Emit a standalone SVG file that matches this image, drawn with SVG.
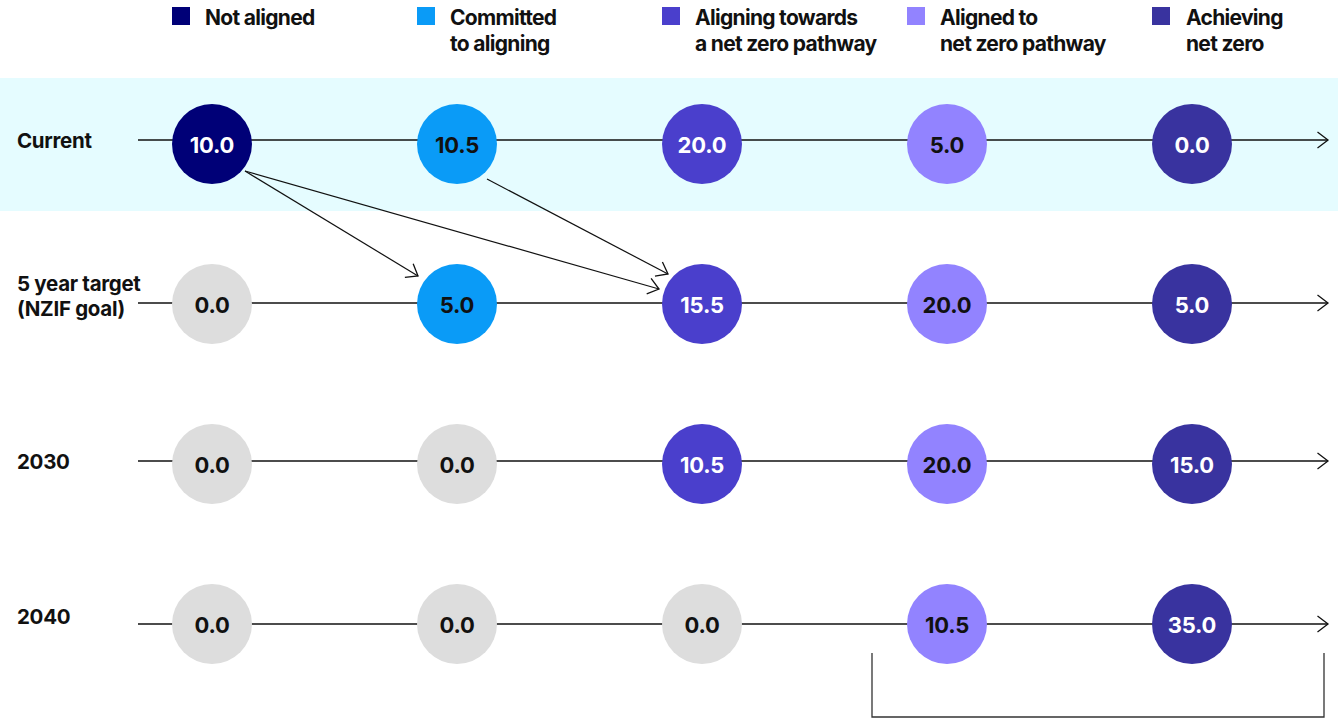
<svg xmlns="http://www.w3.org/2000/svg" width="1338" height="720" viewBox="0 0 1338 720">
<defs>
<marker id="chev" markerUnits="userSpaceOnUse" markerWidth="24" markerHeight="24" viewBox="-12 -12 24 24" refX="0" refY="0" orient="auto">
<path d="M-10.5,-8 L0,0 L-10.5,8" fill="none" stroke="#111" stroke-width="1.3"/>
</marker>
</defs>
<style>
text{font-family:Inter,"Noto Sans","Liberation Sans",sans-serif;font-weight:700;font-size:21px;fill:#111;letter-spacing:-0.7px}
.lbl{font-size:20.5px;letter-spacing:-0.3px}
.num{text-anchor:middle;font-size:22px;letter-spacing:-0.2px}
.w{fill:#fff}
.row{stroke:#111;stroke-width:1.3;fill:none}
.arr{stroke:#111;stroke-width:1.2;fill:none;marker-end:url(#chev)}
.na{fill:#000077}
.co{fill:#0a9bf7}
.at{fill:#4a3fcc}
.al{fill:#9283ff}
.ac{fill:#39339f}
.gr{fill:#dddddd}
</style>
<rect x="0" y="78" width="1338" height="133" fill="#e5fcff"/>

<g id="legend">
<rect x="172" y="7" width="18" height="18" class="na"/>
<text x="205" y="25">Not aligned</text>
<rect x="417" y="7" width="18" height="18" class="co"/>
<text x="450" y="25">Committed</text>
<text x="450" y="51">to aligning</text>
<rect x="662" y="7" width="18" height="18" class="at"/>
<text x="695" y="25">Aligning towards</text>
<text x="695" y="51">a net zero pathway</text>
<rect x="907" y="7" width="18" height="18" class="al"/>
<text x="940" y="25">Aligned to</text>
<text x="940" y="51">net zero pathway</text>
<rect x="1152" y="7" width="18" height="18" class="ac"/>
<text x="1186" y="25">Achieving</text>
<text x="1186" y="51">net zero</text>
</g>

<g id="row-labels">
<text class="lbl" x="17" y="148">Current</text>
<text class="lbl" x="17" y="291">5 year target</text>
<text class="lbl" x="17" y="316">(NZIF goal)</text>
<text class="lbl" x="17" y="469">2030</text>
<text class="lbl" x="17" y="624">2040</text>
</g>

<g id="connectors">
<line class="row" x1="138" y1="140" x2="1328" y2="140" marker-end="url(#chev)"/>
<line class="row" x1="138" y1="303" x2="1328" y2="303" marker-end="url(#chev)"/>
<line class="row" x1="138" y1="461" x2="1328" y2="461" marker-end="url(#chev)"/>
<line class="row" x1="138" y1="624" x2="1328" y2="624" marker-end="url(#chev)"/>
<line class="arr" x1="245" y1="171" x2="418" y2="276"/>
<line class="arr" x1="245" y1="171" x2="659" y2="289"/>
<line class="arr" x1="487" y1="179" x2="668" y2="274"/>
<polyline points="872,653 872,717 1324,717 1324,653" fill="none" stroke="#333" stroke-width="1.3"/>
</g>

<g id="current-not-aligned"><circle cx="212" cy="144" r="40" class="na"/><text class="num w" x="212" y="153">10.0</text></g>
<g id="current-committed"><circle cx="457" cy="144" r="40" class="co"/><text class="num" x="457" y="153">10.5</text></g>
<g id="current-aligning"><circle cx="702" cy="144" r="40" class="at"/><text class="num w" x="702" y="153">20.0</text></g>
<g id="current-aligned"><circle cx="947" cy="144" r="40" class="al"/><text class="num" x="947" y="153">5.0</text></g>
<g id="current-achieving"><circle cx="1192" cy="144" r="40" class="ac"/><text class="num w" x="1192" y="153">0.0</text></g>

<g id="t5-not-aligned"><circle cx="212" cy="304" r="40" class="gr"/><text class="num" x="212" y="313">0.0</text></g>
<g id="t5-committed"><circle cx="457" cy="304" r="40" class="co"/><text class="num" x="457" y="313">5.0</text></g>
<g id="t5-aligning"><circle cx="702" cy="304" r="40" class="at"/><text class="num w" x="702" y="313">15.5</text></g>
<g id="t5-aligned"><circle cx="947" cy="304" r="40" class="al"/><text class="num" x="947" y="313">20.0</text></g>
<g id="t5-achieving"><circle cx="1192" cy="304" r="40" class="ac"/><text class="num w" x="1192" y="313">5.0</text></g>

<g id="y2030-not-aligned"><circle cx="212" cy="464" r="40" class="gr"/><text class="num" x="212" y="472.5">0.0</text></g>
<g id="y2030-committed"><circle cx="457" cy="464" r="40" class="gr"/><text class="num" x="457" y="472.5">0.0</text></g>
<g id="y2030-aligning"><circle cx="702" cy="464" r="40" class="at"/><text class="num w" x="702" y="472.5">10.5</text></g>
<g id="y2030-aligned"><circle cx="947" cy="464" r="40" class="al"/><text class="num" x="947" y="472.5">20.0</text></g>
<g id="y2030-achieving"><circle cx="1192" cy="464" r="40" class="ac"/><text class="num w" x="1192" y="472.5">15.0</text></g>

<g id="y2040-not-aligned"><circle cx="212" cy="624" r="40" class="gr"/><text class="num" x="212" y="632.5">0.0</text></g>
<g id="y2040-committed"><circle cx="457" cy="624" r="40" class="gr"/><text class="num" x="457" y="632.5">0.0</text></g>
<g id="y2040-aligning"><circle cx="702" cy="624" r="40" class="gr"/><text class="num" x="702" y="632.5">0.0</text></g>
<g id="y2040-aligned"><circle cx="947" cy="624" r="40" class="al"/><text class="num" x="947" y="632.5">10.5</text></g>
<g id="y2040-achieving"><circle cx="1192" cy="624" r="40" class="ac"/><text class="num w" x="1192" y="632.5">35.0</text></g>
</svg>
